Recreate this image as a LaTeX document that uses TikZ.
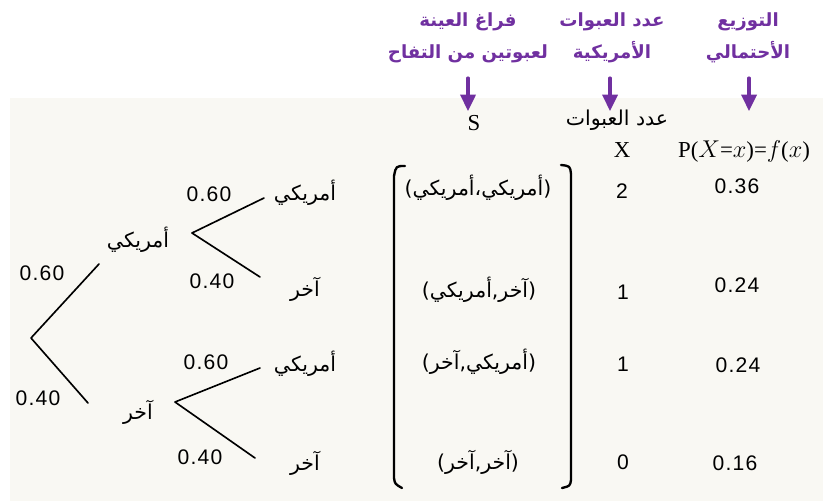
\documentclass[tikz,border=0pt]{standalone}
\usepackage{fontspec}
\usetikzlibrary{arrows.meta}
\setmainfont{Liberation Serif}
\newfontfamily\arabicfont[Script=Arabic]{DejaVu Sans}
\newfontfamily\numfont[LetterSpace=6]{Liberation Sans}
\TeXXeTstate=1
\definecolor{titlepurple}{RGB}{112,48,160}
\definecolor{paper}{RGB}{249,248,243}
\newcommand{\artxt}[1]{\beginR #1\endR}
\tikzset{
	title/.style={font=\arabicfont\bfseries\fontsize{15.5}{27}\selectfont, text=titlepurple, align=center, inner sep=0pt},
	arlbl/.style={font=\arabicfont\fontsize{17.5}{20}\selectfont, inner sep=0pt},
	numlbl/.style={font=\numfont\fontsize{18}{20}\selectfont, inner sep=0pt},
	serlbl/.style={font=\fontsize{19.5}{22}\selectfont, inner sep=0pt},
	parrow/.style={draw=titlepurple, line width=2.6pt, -{Triangle[length=14pt,width=13pt]}},
	branch/.style={line width=1.4pt},
	brack/.style={line width=2pt}
}
\begin{document}
\begin{tikzpicture}[x=0.03cm, y=-0.03cm, line join=round, line cap=round]
	\useasboundingbox (0,0) rectangle (823,501);
	\fill[paper] (10,98) rectangle (823,501);
	% titles
	\node[title] (t1) at (468,38) {\artxt{فراغ العينة}\\\artxt{لعبوتين من التفاح}};
	\node[title] (t2) at (612,38) {\artxt{عدد العبوات}\\\artxt{الأمريكية}};
	\node[title] (t3) at (748,38) {\artxt{التوزيع}\\\artxt{الأحتمالي}};
	\coordinate (tip1) at (468,111);
	\coordinate (tip2) at (610,111);
	\coordinate (tip3) at (749,111);
	\draw[parrow] (tip1 |- 0,78) -- (tip1);
	\draw[parrow] (tip2 |- 0,78) -- (tip2);
	\draw[parrow] (tip3 |- 0,78) -- (tip3);
	% column heads
	\node[serlbl] (S) at (474,123) {S};
	\node[arlbl] (cnt) at (617,120) {\artxt{عدد العبوات}};
	\node[serlbl] (X) at (622,150) {X};
	\node[serlbl] (P) at (744,151) {P($X$=$x$)=$f$($x$)};
	% tree
	\coordinate (r) at (31,338);
	\coordinate (u) at (99,264);
	\coordinate (d) at (88,403);
	\coordinate (fa) at (192,233);
	\coordinate (faa) at (264,198);
	\coordinate (fab) at (260,277);
	\coordinate (fb) at (175,402);
	\coordinate (fba) at (260,368);
	\coordinate (fbb) at (255,458);
	\draw[branch] (u) -- (r) -- (d);
	\draw[branch] (faa) -- (fa) -- (fab);
	\draw[branch] (fba) -- (fb) -- (fbb);
	\node[numlbl] (p1) at (42,273) {0.60};
	\node[numlbl] (p2) at (38,398) {0.40};
	\node[arlbl] (a) at (138,240) {\artxt{أمريكي}};
	\node[arlbl] (b) at (138,412) {\artxt{آخر}};
	\node[numlbl] (pa1) at (209,194) {0.60};
	\node[numlbl] (pa2) at (212,281) {0.40};
	\node[numlbl] (pb1) at (206,362) {0.60};
	\node[numlbl] (pb2) at (200,457) {0.40};
	\node[arlbl] (aa) at (305,193) {\artxt{أمريكي}};
	\node[arlbl] (ab) at (305,289) {\artxt{آخر}};
	\node[arlbl] (ba) at (305,364) {\artxt{أمريكي}};
	\node[arlbl] (bb) at (305,463) {\artxt{آخر}};
	% sample space
	\draw[brack] (405,166) .. controls (396,166) .. (394,176) -- (394,478) .. controls (395,484) .. (402,488);
	\draw[brack] (561,165) .. controls (570,166) .. (571,174) -- (571,480) .. controls (570,486) .. (562,488);
	\node[arlbl] (s1) at (478,188) {\artxt{(أمريكي،أمريكي)}};
	\node[arlbl] (s2) at (479,290) {\artxt{(آخر,أمريكي)}};
	\node[arlbl] (s3) at (479,362) {\artxt{(أمريكي,آخر)}};
	\node[arlbl] (s4) at (478,462) {\artxt{(آخر,آخر)}};
	% values of X
	\node[numlbl] (x1) at (622,191) {2};
	\node[numlbl] (x2) at (623,292) {1};
	\node[numlbl] (x3) at (623,364) {1};
	\node[numlbl] (x4) at (623,462) {0};
	% probabilities
	\node[numlbl] (f1) at (737,186) {0.36};
	\node[numlbl] (f2) at (737,285) {0.24};
	\node[numlbl] (f3) at (738,365) {0.24};
	\node[numlbl] (f4) at (735,463) {0.16};
\end{tikzpicture}
\end{document}
